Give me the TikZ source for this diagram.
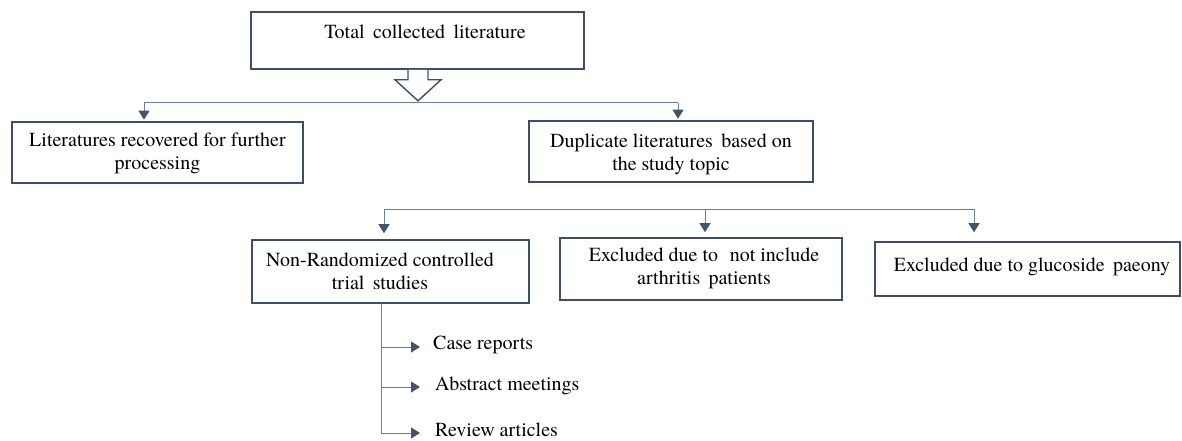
\documentclass[tikz,border=0pt]{standalone}
\usepackage{fontspec}
\setmainfont{TeX Gyre Termes}
\newfontfamily\tnr{TeX Gyre Termes}
\usetikzlibrary{arrows.meta,calc}
\definecolor{boxc}{HTML}{3E4E6A}
\definecolor{linec}{HTML}{6D7F9C}
\definecolor{tipc}{HTML}{44546A}
\begin{document}
\begin{tikzpicture}[x=1pt,y=-1pt,
  box/.style={draw=boxc,line width=1.6pt,rectangle,inner sep=0pt,fill=white},
  txt/.style={inner sep=0pt,align=center,font=\tnr\fontsize{20}{23}\selectfont,text=black},
  conn/.style={draw=linec,line width=1pt},
  arr/.style={conn,-{Triangle[width=11pt,length=9pt,color=tipc,fill=tipc]}},
]
\useasboundingbox (0,0) rectangle (1182,441);
% boxes
\node[box,minimum width=333pt,minimum height=57pt] (top) at (417.5,40.5) {};
\node[txt] (toptxt) at (425,32) {Total\, collected\, literature};
\node[box,minimum width=291pt,minimum height=61pt] (left) at (157.5,152.5) {};
\node[txt] (lefttxt) at (157.5,153.5) {Literatures recovered for further\\processing};
\node[box,minimum width=284pt,minimum height=61pt] (dup) at (671,151.5) {};
\node[txt] (duptxt) at (671,154) {Duplicate literatures\, based on\\the study topic};
\node[box,minimum width=277pt,minimum height=63pt] (nr) at (390.5,271.5) {};
\node[txt] (nrtxt) at (380,271.5) {Non-Randomized controlled\\trial\, studies};
\node[box,minimum width=282pt,minimum height=62pt] (mid) at (701,269) {};
\node[txt] (midtxt) at (704,268.5) {Excluded due to\,\, not include\\arthritis\, patients};
\node[box,minimum width=305pt,minimum height=54pt] (right) at (1027.5,269) {};
\node[txt] (righttxt) at (1032,267) {Excluded due to glucoside\, paeony};
% block arrow below the top box
\draw[draw=boxc,line width=1.4pt,line join=miter,fill=white]
  ($(top.south)+(-9.5,0)$) -- ++(0,10) -- ++(-13,0) -- ($(top.south)+(0.5,31)$)
  -- ($(top.south)+(23.5,10)$) -- ++(-13,0) -- ($(top.south)+(10.5,0)$);
% first bracket
\coordinate (h1l) at (144,103);
\coordinate (h1r) at (678,103);
\draw[conn] (h1l) -- (h1r);
\draw[arr,shorten >=1.5pt] (h1l) -- (h1l |- left.north);
\draw[arr,shorten >=1.5pt] (h1r) -- (h1r |- dup.north);
% second bracket
\coordinate (h2l) at (384,209);
\coordinate (h2m) at (705,209);
\coordinate (h2r) at (974,209);
\draw[conn] (h2l) -- (h2r);
\draw[arr,shorten >=6pt] (h2l) -- (h2l |- nr.north);
\draw[arr,shorten >=5pt] (h2m) -- (h2m |- mid.north);
\draw[arr,shorten >=9pt] (h2r) -- (h2r |- right.north);
% lower list
\node[txt,anchor=west] (case) at (433,345) {Case reports};
\node[txt,anchor=west] (abs) at (435,386) {Abstract meetings};
\node[txt,anchor=west] (rev) at (435,430) {Review articles};
\coordinate (v0) at (381,303);
\coordinate (b1) at (381,347);
\coordinate (b2) at (381,387);
\coordinate (b3) at (381,433);
\draw[conn] (v0) -- (b3);
\draw[arr] (b1) -- (420,347);
\draw[arr] (b2) -- (420,387);
\draw[arr] (b3) -- (420,433);
\end{tikzpicture}
\end{document}
